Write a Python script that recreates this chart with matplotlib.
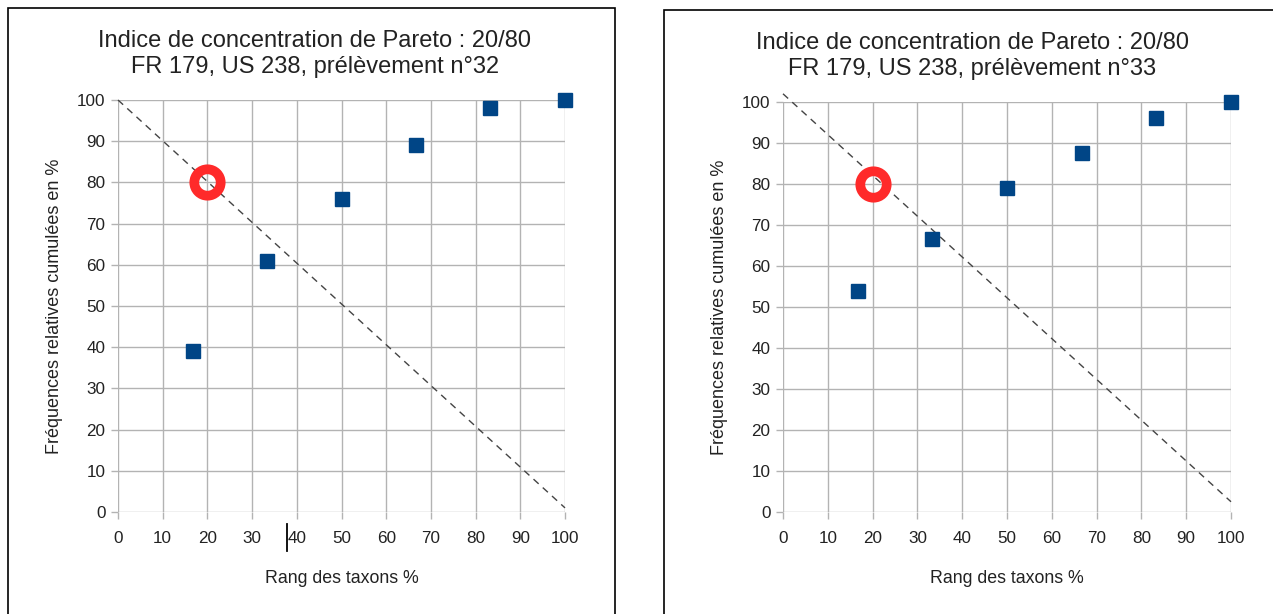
import matplotlib.pyplot as plt
import matplotlib.patches as patches
import numpy as np

plt.rcParams['font.family'] = ['Liberation Sans', 'DejaVu Sans']

# data
rang = [16.67, 33.33, 50, 66.67, 83.33, 100]
freq_32 = [39, 61, 76, 89, 98, 100]
freq_33 = [54, 66.5, 79, 87.5, 96, 100]
diag_32 = ([0, 100], [100, 1])
diag_33 = ([0, 100], [102, 2.5])
pareto_pt = (20, 80)
titles = ["Indice de concentration de Pareto : 20/80\nFR 179, US 238, prélèvement n°32",
          "Indice de concentration de Pareto : 20/80\nFR 179, US 238, prélèvement n°33"]

W, H = 1273, 614
fig = plt.figure(figsize=(W / 100, H / 100), dpi=100)

# panel frames (bottom / right edges run off the picture)
fig.patches.append(patches.Rectangle((8 / W, -0.05), 607 / W, 1.05 - 8 / H,
                                     transform=fig.transFigure, fill=False,
                                     edgecolor='black', lw=1.2))
fig.patches.append(patches.Rectangle((664 / W, -0.05), 0.5, 1.05 - 10 / H,
                                     transform=fig.transFigure, fill=False,
                                     edgecolor='black', lw=1.2))


def make_panel(rect, freq, diag, title, title_x, title_y):
    ax = fig.add_axes(rect)
    ax.set_xlim(0, 100)
    ax.set_ylim(0, 100)
    ax.set_xticks(np.arange(0, 101, 10))
    ax.set_yticks(np.arange(0, 101, 10))
    ax.grid(True, color='#b3b3b3', lw=1)
    ax.set_axisbelow(True)
    for s in ax.spines.values():
        s.set_visible(False)
    ax.tick_params(length=5, width=1, color='#b3b3b3', labelsize=12.3,
                   labelcolor='#222222')
    ax.tick_params(axis='x', pad=9)
    ax.tick_params(axis='y', pad=4)
    ax.plot(diag[0], diag[1], ls=(0, (5, 4)), color='#444444', lw=1, clip_on=False)
    ax.plot(rang, freq, ls='none', marker='s', ms=10.5, color='#004586', clip_on=False, zorder=4)
    ax.plot(*pareto_pt, marker='o', ms=19, mfc='none', mec='#ff2a2a', mew=7,
            clip_on=False, zorder=5)
    ax.set_xlabel("Rang des taxons %", fontsize=12.8, color='#222222', labelpad=17)
    ax.set_ylabel("Fréquences relatives cumulées en %", fontsize=13,
                  color='#222222', labelpad=10)
    fig.text(title_x / W, 1 - title_y / H, title, ha='center', va='center',
             fontsize=17, color='#222222', linespacing=1.25)
    return ax


ax1 = make_panel([118 / W, 1 - 512 / H, 447 / W, 412 / H], freq_32, diag_32,
                 titles[0], 315, 54)
ax2 = make_panel([783 / W, 1 - 512 / H, 448 / W, 410 / H], freq_33, diag_33,
                 titles[1], 972, 56)

# stray text cursor next to the "40" label in the left chart
ax1.plot([37.7, 37.7], [-3, -9.5], color='black', lw=1.3, clip_on=False)

fig.savefig('out.png', dpi=100)
